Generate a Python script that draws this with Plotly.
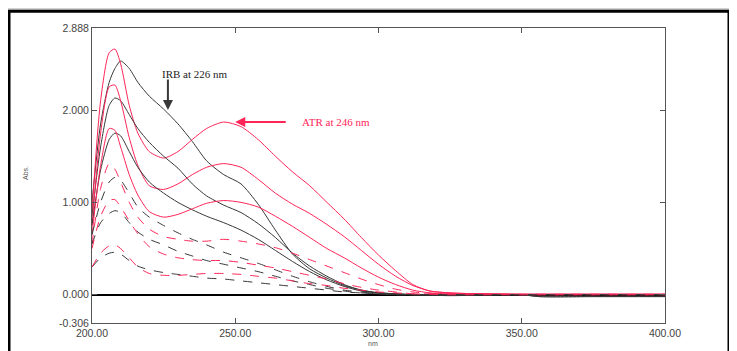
import plotly.graph_objects as go

wavelength = [200, 203, 206, 208, 210, 213, 216, 220, 225, 230, 235, 240, 246, 252, 258,
              264, 270, 276, 282, 288, 294, 300, 306, 312, 318, 325, 335, 350, 356, 375, 400]

red_1 = [0.90, 2.10, 2.62, 2.66, 2.50, 2.05, 1.75, 1.55, 1.48, 1.55, 1.68, 1.80, 1.87, 1.82, 1.68,
         1.50, 1.33, 1.18, 1.00, 0.82, 0.62, 0.43, 0.26, 0.11, 0.04, 0.02, 0.01, 0.005, 0.005, 0.005, 0.005]
red_2 = [0.75, 1.75, 2.25, 2.27, 2.10, 1.70, 1.40, 1.18, 1.14, 1.20, 1.30, 1.38, 1.42, 1.38, 1.25,
         1.10, 0.98, 0.88, 0.76, 0.63, 0.48, 0.33, 0.20, 0.10, 0.04, 0.02, 0.01, 0.005, 0.005, 0.005, 0.005]
red_3 = [0.65, 1.40, 1.80, 1.78, 1.60, 1.30, 1.08, 0.90, 0.84, 0.87, 0.93, 0.99, 1.02, 1.00, 0.95,
         0.85, 0.74, 0.62, 0.50, 0.40, 0.29, 0.19, 0.11, 0.05, 0.02, 0.01, 0.01, 0.005, 0.005, 0.005, 0.005]
red_4 = [0.55, 1.15, 1.42, 1.36, 1.22, 1.00, 0.84, 0.71, 0.63, 0.60, 0.58, 0.58, 0.60, 0.58, 0.55,
         0.51, 0.45, 0.38, 0.31, 0.24, 0.17, 0.11, 0.06, 0.03, 0.015, 0.01, 0.005, 0.005, 0.005, 0.005, 0.005]
red_5 = [0.50, 0.85, 1.02, 1.03, 0.95, 0.80, 0.66, 0.52, 0.44, 0.40, 0.38, 0.37, 0.37, 0.35, 0.32,
         0.29, 0.25, 0.21, 0.17, 0.12, 0.08, 0.05, 0.03, 0.01, 0.01, 0.005, 0.005, 0.0, 0.0, 0.0, 0.0]
red_6 = [0.30, 0.45, 0.53, 0.54, 0.50, 0.40, 0.30, 0.23, 0.21, 0.21, 0.22, 0.23, 0.23, 0.22, 0.20,
         0.18, 0.15, 0.12, 0.10, 0.07, 0.05, 0.03, 0.02, 0.01, 0.005, 0.0, 0.0, 0.0, 0.0, 0.0, 0.0]

black_1 = [1.00, 1.85, 2.30, 2.45, 2.53, 2.45, 2.30, 2.15, 2.01, 1.85, 1.66, 1.45, 1.30, 1.20, 0.98,
           0.70, 0.44, 0.28, 0.18, 0.10, 0.05, 0.02, 0.01, 0.0, -0.005, -0.01, -0.005, 0.0, -0.02, -0.02, -0.02]
black_2 = [0.85, 1.60, 2.05, 2.13, 2.10, 1.95, 1.80, 1.65, 1.50, 1.37, 1.20, 1.07, 0.97, 0.89, 0.77,
           0.62, 0.45, 0.31, 0.20, 0.11, 0.05, 0.02, 0.01, 0.0, 0.0, -0.005, 0.0, 0.0, -0.02, -0.02, -0.02]
black_3 = [0.75, 1.35, 1.68, 1.75, 1.72, 1.55, 1.38, 1.22, 1.10, 1.00, 0.92, 0.85, 0.78, 0.70, 0.60,
           0.48, 0.36, 0.25, 0.16, 0.09, 0.04, 0.02, 0.01, 0.0, 0.0, 0.0, 0.0, 0.0, 0.0, 0.0, 0.0]
black_4 = [0.65, 1.00, 1.22, 1.27, 1.24, 1.10, 0.95, 0.84, 0.75, 0.67, 0.60, 0.54, 0.46, 0.40, 0.34,
           0.27, 0.20, 0.14, 0.09, 0.05, 0.03, 0.01, 0.0, 0.0, 0.0, 0.0, 0.0, 0.0, 0.0, 0.0, 0.0]
black_5 = [0.55, 0.78, 0.88, 0.91, 0.89, 0.78, 0.68, 0.60, 0.54, 0.47, 0.42, 0.37, 0.33, 0.29, 0.25,
           0.20, 0.15, 0.11, 0.07, 0.04, 0.02, 0.01, 0.0, 0.0, 0.0, 0.0, 0.0, 0.0, 0.0, 0.0, 0.0]
black_6 = [0.30, 0.40, 0.45, 0.46, 0.44, 0.37, 0.31, 0.27, 0.24, 0.22, 0.20, 0.18, 0.17, 0.15, 0.13,
           0.11, 0.09, 0.07, 0.05, 0.03, 0.02, 0.01, 0.0, 0.0, 0.0, 0.0, 0.0, 0.0, 0.0, 0.0, 0.0]

x_ticks = [200, 250, 300, 350, 400]
x_tick_labels = ["200.00", "250.00", "300.00", "350.00", "400.00"]
y_ticks = [-0.306, 0, 1, 2, 2.888]
y_tick_labels = ["-0.306", "0.000", "1.000", "2.000", "2.888"]

RED = "#ff2458"
BLACK = "#383838"

fig = go.Figure()
reds = [red_1, red_2, red_3, red_4, red_5, red_6]
blacks = [black_1, black_2, black_3, black_4, black_5, black_6]
for i, (r, b) in enumerate(zip(reds, blacks)):
    dash = "solid" if i < 3 else "dash"
    fig.add_trace(go.Scatter(x=wavelength, y=b, mode="lines",
                             line=dict(color=BLACK, width=1, dash=dash, shape="spline", smoothing=0.7),
                             showlegend=False, hoverinfo="skip"))
    fig.add_trace(go.Scatter(x=wavelength, y=r, mode="lines",
                             line=dict(color=RED, width=1, dash=dash, shape="spline", smoothing=0.7),
                             showlegend=False, hoverinfo="skip"))

# page body has an 8px margin: work in screen pixels and convert
OFF = 8
W, H = 737 - OFF, 351 - OFF
L, T = 92 - OFF, 28 - OFF
R = 737 - 665
B = 351 - 328
pw, ph = W - L - R, H - T - B

def px_x(p):
    return (p - OFF - L) / pw

def px_y(p):
    return (H - B - (p - OFF)) / ph

fig.add_shape(type="rect", xref="paper", yref="paper",
              x0=px_x(9), x1=px_x(729), y0=px_y(370), y1=px_y(11),
              fillcolor="white", line=dict(color="black", width=3), layer="below")

tickfont = dict(family="Liberation Sans, Arial, sans-serif", size=10.5, color="#444")
fig.update_xaxes(range=[200, 400], tickvals=x_ticks, ticktext=x_tick_labels,
                 showgrid=False, zeroline=False, showline=True, linecolor="#555", linewidth=1,
                 mirror="ticks", ticks="inside", ticklen=5, tickcolor="#555", tickfont=tickfont)
fig.update_yaxes(range=[-0.306, 2.888], tickvals=y_ticks, ticktext=y_tick_labels,
                 showgrid=False, zeroline=True, zerolinecolor="black", zerolinewidth=1.5,
                 showline=True, linecolor="#555", linewidth=1,
                 mirror="ticks", ticks="inside", ticklen=5, tickcolor="#555", tickfont=tickfont)

serif = "Liberation Serif, Times New Roman, serif"
fig.add_annotation(x=226.5, y=2.0, ax=0, ay=-32, text="", showarrow=True,
                   arrowhead=2, arrowsize=1.0, arrowwidth=2, arrowcolor=BLACK)
fig.add_annotation(x=223.8, y=2.39, text="IRB at 226 nm", showarrow=False,
                   xanchor="left", yanchor="middle", font=dict(family=serif, size=11, color="#222"))
fig.add_annotation(x=250, y=1.87, ax=52, ay=0, text="", showarrow=True,
                   arrowhead=2, arrowsize=1.0, arrowwidth=2, arrowcolor=RED)
fig.add_annotation(x=272.5, y=1.87, text="ATR at 246 nm", showarrow=False,
                   xanchor="left", yanchor="middle", font=dict(family=serif, size=11, color=RED))
fig.add_annotation(xref="paper", yref="paper", x=px_x(20), y=px_y(176), text="Abs.",
                   textangle=-90, showarrow=False, font=dict(family=tickfont["family"], size=7, color="#555"))
fig.add_annotation(xref="paper", yref="paper", x=px_x(373), y=px_y(349), text="nm",
                   yanchor="middle", showarrow=False,
                   font=dict(family=tickfont["family"], size=7, color="#555"))

fig.update_layout(width=W, height=H, margin=dict(l=L, r=R, t=T, b=B),
                  paper_bgcolor="#d2d2d2", plot_bgcolor="white")

fig.write_html("out.html")
